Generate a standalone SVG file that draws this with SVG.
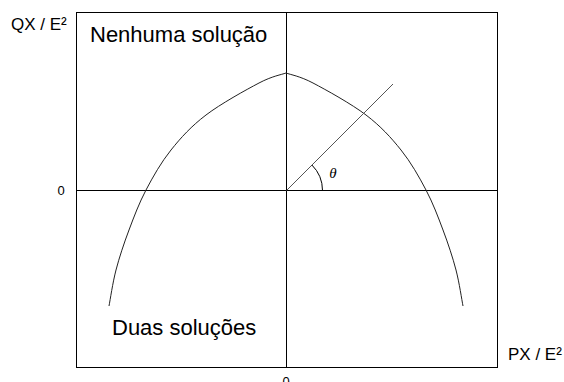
<svg xmlns="http://www.w3.org/2000/svg" width="564" height="382" viewBox="0 0 564 382">
<style>
.t{font-family:"Liberation Sans",Arial,sans-serif;fill:#000}
.ln{fill:none;stroke:#000;stroke-width:1}
.cv{fill:none;stroke:#222;stroke-width:1}
</style>
<rect width="564" height="382" fill="#fff"/>
<g id="frame">
<rect class="ln" x="76.5" y="12.5" width="421" height="355"/>
</g>
<g id="axes">
<line class="ln" x1="286.5" y1="12" x2="286.5" y2="368"/>
<line class="ln" x1="76" y1="190.5" x2="497" y2="190.5"/>
</g>
<g id="connectors">
<path id="curve" class="cv" d="M109,306 C110.2,300 112.7,282.7 116,270 C119.3,257.3 124,243.3 129,230 C134,216.7 139,203.3 146,190 C153,176.7 161,162.5 171,150 C181,137.5 191.3,126.2 206,115 C220.7,103.8 245.7,90 259,83 C272.3,76 281.5,74.7 286,73 C290.5,74.7 299.7,76 313,83 C326.3,90 351.3,103.8 366,115 C380.7,126.2 391,137.5 401,150 C411,162.5 419,176.7 426,190 C433,203.3 438,216.7 443,230 C448,243.3 452.7,257.3 456,270 C459.3,282.7 461.8,300 463,306"/>
<line id="ray" x1="286.5" y1="190.5" x2="393" y2="84" stroke="#555" stroke-width="1"/>
<path id="arc" class="ln" d="M322.5,190.5 A36,36 0 0 0 311.9,165"/>
</g>
<g id="labels">
<text class="t" x="11" y="30" font-size="17">QX / E²</text>
<text class="t" x="90" y="42" font-size="22">Nenhuma solução</text>
<text class="t" x="112" y="335" font-size="22">Duas soluções</text>
<text class="t" x="508" y="360" font-size="17">PX / E²</text>
<text class="t" x="61" y="195" font-size="13" text-anchor="middle">0</text>
<text class="t" x="286" y="386" font-size="13" text-anchor="middle">0</text>
<text x="333" y="178" font-size="15" font-style="italic" text-anchor="middle" font-family="'Liberation Serif','DejaVu Serif',serif">θ</text>
</g>
</svg>
